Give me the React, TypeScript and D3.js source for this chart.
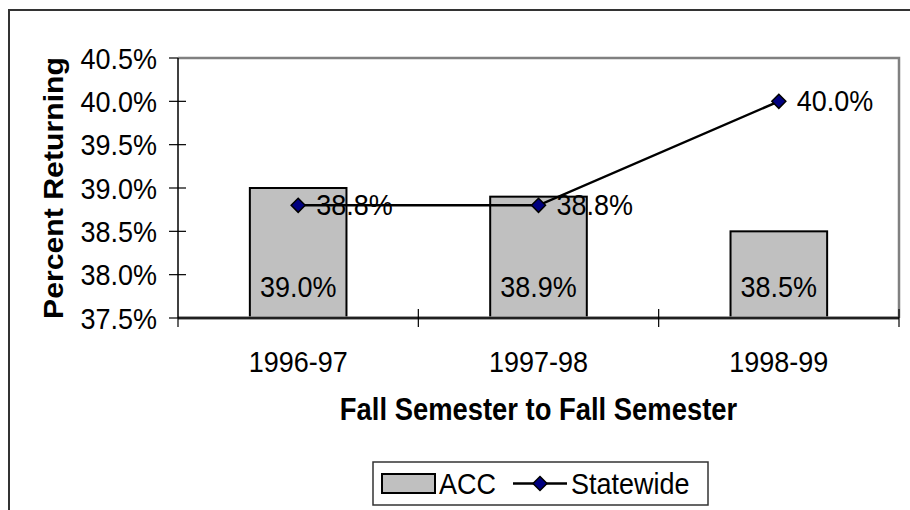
import React from "react";
import * as d3 from "d3";

const categories = ["1996-97", "1997-98", "1998-99"];
const accValues = [39.0, 38.9, 38.5];
const statewideValues = [38.8, 38.8, 40.0];
const yTicks = [37.5, 38.0, 38.5, 39.0, 39.5, 40.0, 40.5];
const yTitle = "Percent Returning";
const xTitle = "Fall Semester to Fall Semester";
const seriesNames = ["ACC", "Statewide"];

const FONT = "Arial, 'Liberation Sans', sans-serif";
const FS = 27;
const SY = 1.12;

function T(props: {
  x: number;
  y: number;
  anchor?: "start" | "middle" | "end";
  bold?: boolean;
  rotate?: number;
  size?: number;
  children: React.ReactNode;
}) {
  const { x, y, anchor = "start", bold, rotate, size = FS, children } = props;
  return (
    <g transform={`translate(${x},${y}) scale(1,${SY})${rotate ? ` rotate(${rotate})` : ""}`}>
      <text x={0} y={0} textAnchor={anchor} fontSize={size} fontWeight={bold ? "bold" : "normal"} fill="#000">
        {children}
      </text>
    </g>
  );
}

export default function App() {
  const W = 910, H = 510;
  const plot = { left: 178, right: 899, top: 58, bottom: 318 };
  const x = d3.scaleBand<string>().domain(categories).range([plot.left, plot.right]).padding(0);
  const y = d3.scaleLinear().domain([37.5, 40.5]).range([plot.bottom, plot.top]);
  const barW = x.bandwidth() * 0.402;
  const fmt = (v: number) => d3.format(".1f")(v) + "%";
  const cx = (c: string) => (x(c) as number) + x.bandwidth() / 2;
  const line = d3.line<number>().x((_, i) => cx(categories[i])).y((v) => y(v));
  const diamond = (px: number, py: number, r = 7) =>
    `M${px},${py - r}L${px + r},${py}L${px},${py + r}L${px - r},${py}Z`;
  const boundaries = [...categories.map((c) => x(c) as number), plot.right];

  return (
    <div style={{ position: "fixed", left: 0, top: 0 }}>
      <svg width={W} height={H} style={{ display: "block", background: "#fff" }} fontFamily={FONT}>
        <rect x={9} y={10} width={940} height={540} fill="#fff" stroke="#333" strokeWidth={2} />
        {/* plot border top/right */}
        <path
          d={`M${plot.left},${plot.top}H${plot.right}V${plot.bottom}`}
          fill="none"
          stroke="#808080"
          strokeWidth={2.5}
        />
        {/* bars */}
        {categories.map((c, i) => (
          <rect
            key={c}
            x={cx(c) - barW / 2}
            y={y(accValues[i])}
            width={barW}
            height={plot.bottom - y(accValues[i])}
            fill="#c0c0c0"
            stroke="#000"
            strokeWidth={2}
          />
        ))}
        {/* axes */}
        <line x1={plot.left} x2={plot.right} y1={plot.bottom} y2={plot.bottom} stroke="#808080" strokeWidth={3.5} />
        <line x1={plot.left} x2={plot.right} y1={plot.bottom} y2={plot.bottom} stroke="#000" strokeWidth={1.5} />
        <line x1={plot.left} x2={plot.left} y1={plot.top} y2={plot.bottom} stroke="#000" strokeWidth={1.5} />
        {yTicks.map((t) => (
          <g key={t}>
            <line
              x1={plot.left - 9}
              x2={t === 40.5 || t === 37.5 ? plot.left : plot.left + 8}
              y1={y(t)}
              y2={y(t)}
              stroke="#000"
              strokeWidth={1.2}
            />
            <T x={157} y={y(t) + 10.5} anchor="end">
              {fmt(t)}
            </T>
          </g>
        ))}
        {boundaries.map((b, i) => (
          <line
            key={i}
            x1={b}
            x2={b}
            y1={plot.bottom - (i === 0 ? 0 : 9)}
            y2={plot.bottom + 9}
            stroke="#000"
            strokeWidth={1.2}
          />
        ))}
        {categories.map((c) => (
          <T key={c} x={cx(c)} y={372} anchor="middle">
            {c}
          </T>
        ))}
        {/* bar labels */}
        {categories.map((c, i) => (
          <T key={c} x={cx(c)} y={plot.bottom - 21} anchor="middle">
            {fmt(accValues[i])}
          </T>
        ))}
        {/* statewide line */}
        <path d={line(statewideValues) || ""} fill="none" stroke="#000" strokeWidth={2.5} />
        {categories.map((c, i) => (
          <path key={c} d={diamond(cx(c), y(statewideValues[i]))} fill="#000080" stroke="#000" strokeWidth={1.5} />
        ))}
        {categories.map((c, i) => (
          <T key={c} x={cx(c) + 18} y={y(statewideValues[i]) + 9.5}>
            {fmt(statewideValues[i])}
          </T>
        ))}
        {/* titles */}
        <T x={63} y={(plot.top + plot.bottom) / 2} anchor="middle" bold rotate={-90}>
          {yTitle}
        </T>
        <T x={(plot.left + plot.right) / 2} y={420} anchor="middle" bold size={27.4}>
          {xTitle}
        </T>
        {/* legend */}
        <rect x={373} y={462} width={335} height={43} fill="#fff" stroke="#333" strokeWidth={1.5} />
        <rect x={382} y={474} width={53} height={19} fill="#c0c0c0" stroke="#000" strokeWidth={2} />
        <T x={439} y={494}>{seriesNames[0]}</T>
        <line x1={513} x2={567} y1={483.5} y2={483.5} stroke="#000" strokeWidth={2.5} />
        <path d={diamond(540, 483.5)} fill="#000080" stroke="#000" strokeWidth={1.5} />
        <T x={571} y={494}>{seriesNames[1]}</T>
      </svg>
    </div>
  );
}
